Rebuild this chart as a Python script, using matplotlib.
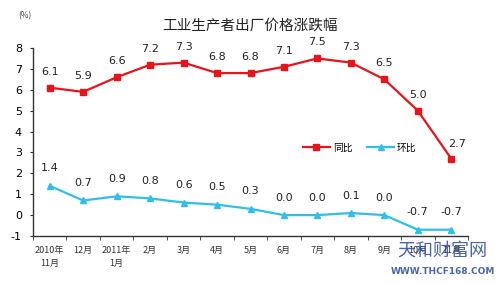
import matplotlib
matplotlib.use("Agg")
import matplotlib.pyplot as plt
import numpy as np

plt.rcParams['font.family'] = ['Noto Sans CJK SC', 'DejaVu Sans']

categories = ["2010年\n11月", "12月", "2011年\n1月", "2月", "3月", "4月", "5月",
              "6月", "7月", "8月", "9月", "10月", "11月"]
yoy = [6.1, 5.9, 6.6, 7.2, 7.3, 6.8, 6.8, 7.1, 7.5, 7.3, 6.5, 5.0, 2.7]
mom = [1.4, 0.7, 0.9, 0.8, 0.6, 0.5, 0.3, 0.0, 0.0, 0.1, 0.0, -0.7, -0.7]
yticks = [-1, 0, 1, 2, 3, 4, 5, 6, 7, 8]

red = '#e8141a'
cyan = '#2ec0e8'

fig = plt.figure(figsize=(5, 2.84), dpi=100)
ax = fig.add_axes([0.066, 0.169, 0.87, 0.662])
x = np.arange(len(categories))

ax.plot(x, yoy, color=red, lw=1.6, marker='s', ms=4.5, label='同比')
ax.plot(x, mom, color=cyan, lw=1.6, marker='^', ms=5, label='环比')

for i, v in enumerate(yoy):
    if i == len(yoy) - 1:
        ax.annotate(f"{v:.1f}", (x[i], v), xytext=(4, 7), textcoords='offset points',
                    ha='center', va='bottom', fontsize=8, color='#222222', family='DejaVu Sans')
    else:
        ax.annotate(f"{v:.1f}", (x[i], v), xytext=(0, 8), textcoords='offset points',
                    ha='center', va='bottom', fontsize=8, color='#222222', family='DejaVu Sans')
for i, v in enumerate(mom):
    ax.annotate(f"{v:.1f}", (x[i], v), xytext=(0, 9), textcoords='offset points',
                ha='center', va='bottom', fontsize=8, color='#222222', family='DejaVu Sans')

ax.set_xlim(-0.5, 12.5)
ax.set_ylim(-1, 8)
ax.set_yticks(yticks)
ax.set_yticklabels([str(t) for t in yticks], fontsize=8, family='DejaVu Sans')
ax.set_xticks(x)
ax.set_xticklabels(categories, fontsize=6.5, color='#333333', linespacing=1.6)
ax.set_xticks(np.arange(-0.5, 12.6, 1), minor=True)
ax.tick_params(axis='x', which='major', length=0, pad=7)
ax.tick_params(axis='x', which='minor', length=3, direction='out', color='#333333')
ax.tick_params(axis='y', length=2, direction='out', color='#333333', pad=6)
for s in ['top', 'right']:
    ax.spines[s].set_visible(False)
for s in ['left', 'bottom']:
    ax.spines[s].set_color('#333333')
    ax.spines[s].set_linewidth(1.0)

fig.text(0.5, 0.91, "工业生产者出厂价格涨跌幅", ha='center', va='center', fontsize=10.5, color='#222222')
fig.text(0.05, 0.945, "(%)", ha='center', va='center', fontsize=6, color='#444444')

ax.legend(loc='center left', bbox_to_anchor=(0.6, 0.47), ncol=2, frameon=False,
          fontsize=7, handlelength=2.8, columnspacing=1.5, handletextpad=0.3)

# watermark
fig.text(0.885, 0.115, "天和财富网", ha='center', va='center', fontsize=13, color='#2a4a9a', alpha=0.85)
fig.text(0.885, 0.045, "WWW.THCF168.COM", ha='center', va='center', fontsize=6.5,
         color='#2a4a9a', alpha=0.85, family='DejaVu Sans', weight='bold')

fig.savefig('out.png', dpi=100)
